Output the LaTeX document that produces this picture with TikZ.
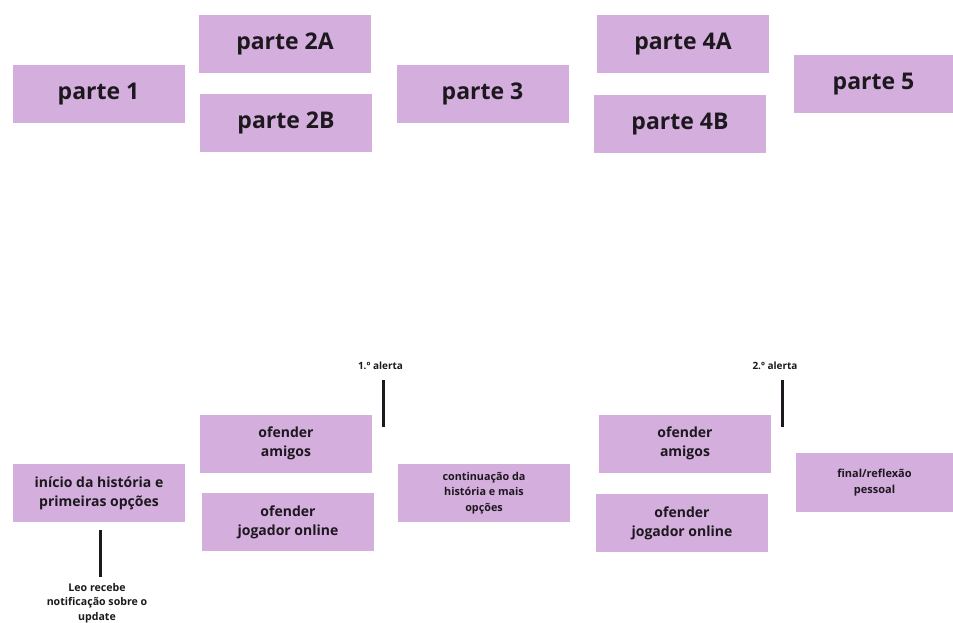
\documentclass[tikz,border=0pt]{standalone}
\usepackage{fontspec}
\setmainfont{Open Sans}
\definecolor{lilas}{RGB}{212,174,221}
\definecolor{tinta}{RGB}{28,24,30}
\tikzset{
  bloco/.style={fill=lilas, minimum width=\largura, minimum height=\altura, inner sep=0pt, align=center, text=tinta, font=\bfseries},
  parte/.style={bloco, font=\bfseries\fontsize{23}{27}\selectfont},
  escolha/.style={bloco, font=\bfseries\fontsize{14}{19}\selectfont},
  resumo/.style={bloco, font=\bfseries\fontsize{10.8}{15.5}\selectfont},
  nota/.style={inner sep=0pt, align=center, text=tinta, font=\bfseries\fontsize{10.6}{14.5}\selectfont},
  haste/.style={draw=tinta, line width=3pt}
}
\begin{document}
\begin{tikzpicture}[x=1pt, y=-1pt]
\pgfmathsetlengthmacro\largura{172};
\pgfmathsetlengthmacro\altura{58};
\useasboundingbox[fill=white] (0,0) rectangle (953,623);
\node[parte] (p1) at (98.5,94) {parte 1};
\node[parte] (p2a) at (285,44) {parte 2A};
\node[parte] (p2b) at (286,123) {parte 2B};
\node[parte] (p3) at (482.5,94) {parte 3};
\node[parte] (p4a) at (683,44) {parte 4A};
\node[parte] (p4b) at (680,124) {parte 4B};
\node[parte, minimum width=159pt] (p5) at (873.5,84) {parte 5};
\node[escolha] (inicio) at (99,493) {início da história e\\primeiras opções};
\node[escolha] (amigos1) at (286,443.5) {ofender\\amigos};
\node[escolha] (jogador1) at (288,522) {ofender\\jogador online};
\node[resumo] (continua) at (484,493) {continuação da\\história e mais\\opções};
\node[escolha] (amigos2) at (685,443.5) {ofender\\amigos};
\node[escolha] (jogador2) at (682,523) {ofender\\jogador online};
\node[resumo, minimum width=157pt, minimum height=59pt, font=\bfseries\fontsize{11}{16}\selectfont] (final) at (874.5,482.5) {final/reflexão\\pessoal};
\node[nota, font=\bfseries\fontsize{10}{14}\selectfont] (alerta1) at (380.5,366) {1.º alerta};
\node[nota, font=\bfseries\fontsize{10}{14}\selectfont] (alerta2) at (775,366) {2.º alerta};
\node[nota] (leo) at (97,603) {Leo recebe\\notificação sobre o\\update};
\coordinate (pino1) at (383,427);
\coordinate (pino2) at (782,427);
\draw[haste, shorten <=10pt] (alerta1.south -| pino1) -- (pino1);
\draw[haste, shorten <=10pt] (alerta2.south -| pino2) -- (pino2);
\draw[haste, shorten <=8pt, shorten >=6pt] ([xshift=1pt]inicio.south) -- ([xshift=1pt]inicio.south |- leo.north);
\end{tikzpicture}
\end{document}
